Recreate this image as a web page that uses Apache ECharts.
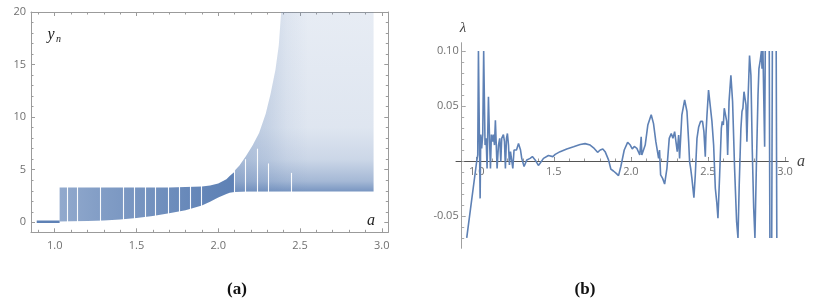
<!DOCTYPE html>
<html><head><meta charset="utf-8">
<script src="https://cdn.jsdelivr.net/npm/echarts@6/dist/echarts.min.js"></script>
<style>html,body{margin:0;padding:0;background:#fff}#c{width:821px;height:300px}</style>
</head><body><div id="c"></div>
<script>
// ---------- Panel (a): bifurcation diagram ----------
const aBase = [0.89, 1.03];
const yBase = [0.06, 0.06];

const aBand    = [1.03, 1.10, 1.20, 1.30, 1.40, 1.50, 1.60, 1.70, 1.80, 1.90, 1.95, 2.00, 2.05, 2.07, 2.10];
const bandLow  = [0.08, 0.10, 0.13, 0.18, 0.27, 0.40, 0.60, 0.85, 1.15, 1.60, 1.95, 2.35, 2.70, 2.80, 2.88];
const bandHigh = [3.30, 3.30, 3.30, 3.30, 3.30, 3.30, 3.30, 3.32, 3.35, 3.40, 3.50, 3.70, 4.10, 4.40, 4.80];

const aChaos    = [2.10, 2.13, 2.17, 2.21, 2.25, 2.29, 2.32, 2.35, 2.37, 2.385, 2.50, 2.70, 2.95];
const chaosLow  = [2.88, 2.90, 2.92, 2.93, 2.94, 2.94, 2.94, 2.94, 2.94, 2.94, 2.94, 2.94, 2.94];
const chaosHigh = [4.9, 5.4, 6.3, 7.3, 8.5, 10.3, 12.2, 14.5, 16.8, 20, 20, 20, 20];

// denser part of the chaotic cloud, along its left edge
const aWedge    = [2.10, 2.13, 2.17, 2.21, 2.25, 2.29, 2.32, 2.35, 2.37, 2.385, 2.45, 2.55];
const wedgeLow  = [2.88, 2.90, 2.92, 2.93, 2.94, 2.94, 2.94, 2.94, 2.94, 2.94, 2.94, 2.94];
const wedgeHigh = [4.9, 5.4, 6.3, 7.3, 8.5, 10.3, 12.2, 14.5, 16.8, 20, 20, 20];

// periodic windows (white gaps): position and top of each gap
const aGaps   = [1.078, 1.139, 1.276, 1.419, 1.486, 1.556, 1.617, 1.694, 1.761, 1.827, 1.898, 2.100, 2.163, 2.239, 2.306, 2.445];
const gapTops = [3.5, 3.5, 3.5, 3.5, 3.5, 3.5, 3.5, 3.5, 3.5, 3.6, 3.7, 5.2, 6.0, 7.0, 5.6, 4.7];

// ---------- Panel (b): Lyapunov exponent ----------
const lamA = [0.935,1.000,1.0065,1.011,1.015,1.017,1.022,1.026,1.032,1.039,1.045,1.050,1.054,1.061,1.067,1.076,1.080,1.084,1.089,1.095,1.102,1.108,1.115,1.121,1.128,1.132,1.141,1.149,1.156,1.162,1.173,1.180,1.186,1.193,1.199,1.206,1.212,1.219,1.227,1.234,1.242,1.249,1.258,1.271,1.284,1.292,1.307,1.325,1.346,1.361,1.379,1.400,1.411,1.433,1.465,1.494,1.509,1.541,1.584,1.628,1.671,1.703,1.736,1.758,1.784,1.801,1.818,1.833,1.855,1.870,1.887,1.905,1.920,1.935,1.957,1.979,1.996,2.009,2.022,2.039,2.058,2.067,2.071,2.080,2.093,2.110,2.132,2.147,2.162,2.180,2.186,2.193,2.206,2.219,2.234,2.249,2.262,2.273,2.284,2.292,2.301,2.310,2.316,2.331,2.349,2.364,2.375,2.381,2.388,2.396,2.409,2.418,2.429,2.440,2.452,2.465,2.474,2.483,2.487,2.494,2.504,2.515,2.526,2.537,2.548,2.558,2.565,2.576,2.587,2.593,2.600,2.606,2.615,2.622,2.628,2.637,2.649,2.660,2.673,2.686,2.695,2.703,2.714,2.721,2.727,2.734,2.740,2.747,2.753,2.760,2.770,2.779,2.788,2.797,2.805,2.814,2.825,2.831,2.840,2.847,2.851,2.857,2.862,2.868,2.872,2.880,2.898,2.902,2.908,2.914,2.918,2.930,2.943,2.947];
const lamV = [-0.070,0.000,0.0055,0.100,0.100,0.024,-0.034,0.024,0.0115,0.024,0.100,0.100,0.0145,0.0206,-0.0067,0.0585,0.057,0.0145,-0.0067,0.024,0.0176,0.024,0.0145,0.037,0.036,-0.0067,0.0145,0.0206,-0.0006,0.0206,0.024,0.0176,-0.0067,0.0206,0.025,0.0145,-0.0036,0.0085,0.010,-0.0067,0.010,0.0085,0.010,0.016,0.010,0.0024,-0.005,0.001,0.0024,0.004,0.001,-0.004,-0.002,0.0024,0.005,0.004,0.006,0.0085,0.011,0.013,0.015,0.0158,0.0145,0.012,0.0079,0.010,0.011,0.0085,0.001,-0.0073,-0.0091,-0.0112,-0.0133,-0.005,0.010,0.017,0.0145,0.011,0.0133,0.0115,0.0055,0.022,0.0055,0.004,0.0145,0.0327,0.042,0.034,0.0176,0.0024,0.010,-0.0127,-0.0158,-0.021,-0.0067,0.0206,0.025,0.0206,0.0267,0.025,0.0085,0.0236,0.0024,0.042,0.0555,0.045,0.0176,-0.0006,-0.0067,-0.0158,-0.0333,-0.0127,0.0206,0.031,0.036,0.036,0.0267,0.004,0.0236,0.042,0.0645,0.063,0.036,0.0145,-0.0248,-0.0385,-0.052,-0.0127,0.0297,0.036,0.0327,0.048,0.049,0.036,0.0055,0.054,0.078,0.054,-0.0067,-0.055,-0.070,-0.022,0.0297,0.045,0.048,0.063,0.0645,0.051,0.0176,0.055,0.096,0.078,0.0085,-0.043,-0.070,-0.0067,0.060,0.084,0.092,0.100,0.084,0.100,0.060,0.013,0.100,null,0.100,-0.070,null,-0.070,0.100,null,0.100,-0.070];

// ---------- tick labels ----------
const aTickLabels = [1.0, 1.5, 2.0, 2.5, 3.0];
const yTickLabelsA = [0, 5, 10, 15, 20];
const lamTickLabels = [-0.05, 0.05, 0.10];

function steps(from, to, step){ const r=[]; for(let k=0; from+k*step<=to+1e-9; k++) r.push(+(from+k*step).toFixed(4)); return r; }
const aMinor = steps(0.9, 3.0, 0.1);
const yMinorA = steps(0, 20, 1);
const lamMinor = steps(-0.07, 0.10, 0.01);

const BLUE = '#5E81B5';
const FRAME = '#9b9b9b';
const LBL = '#707070';
const FONT = '"Open Sans", "DejaVu Sans", sans-serif';

function ax(o){
  return Object.assign({
    type:'value', splitLine:{show:false}, scale:false,
    axisLine:{show:true, onZero:false, lineStyle:{color:FRAME, width:1}},
    axisLabel:{show:false},
    axisTick:{show:true, inside:true, length:4, lineStyle:{color:FRAME}}
  }, o);
}
const lab = (vals, fmt, margin) => ({show:true, customValues:vals, formatter:fmt, color:LBL, fontSize:11, fontFamily:FONT, margin:margin});

const xA = {min:0.855, max:3.04};
const yA = {min:-0.95, max:20};
const xB = {min:0.8654, max:3.0215};
const yB = {min:-0.0794, max:0.1076};
const gridB = {left:456, top:42.7, width:332.3, height:205.6};
// x axis of (b) sits on lambda = 0: shift it up from the grid bottom
const zeroShift = -(gridB.height * (0 - yB.min) / (yB.max - yB.min));

const xAxis = [
  ax({gridIndex:0, position:'bottom', ...xA, axisTick:{show:true,inside:true,length:4,customValues:aTickLabels,lineStyle:{color:FRAME}}, axisLabel:lab(aTickLabels, v=>(+v).toFixed(1), 8)}),
  ax({gridIndex:0, position:'top', ...xA, axisTick:{show:true,inside:true,length:4,customValues:aTickLabels,lineStyle:{color:FRAME}}}),
  ax({gridIndex:0, position:'bottom', ...xA, axisLine:{show:false,onZero:false}, axisTick:{show:true,inside:true,length:2.5,customValues:aMinor,lineStyle:{color:FRAME}}}),
  ax({gridIndex:0, position:'top', ...xA, axisLine:{show:false,onZero:false}, axisTick:{show:true,inside:true,length:2.5,customValues:aMinor,lineStyle:{color:FRAME}}}),
  ax({gridIndex:1, position:'bottom', offset:zeroShift, ...xB, axisLine:{show:true,onZero:false,lineStyle:{color:'#555',width:1}}, axisTick:{show:true,inside:true,length:4,customValues:aTickLabels,lineStyle:{color:'#888'}}, axisLabel:lab(aTickLabels, v=>(+v).toFixed(1), 5)}),
  ax({gridIndex:1, position:'bottom', offset:zeroShift, ...xB, axisLine:{show:false,onZero:false}, axisTick:{show:true,inside:true,length:2.5,customValues:aMinor,lineStyle:{color:'#999'}}})
];
const yAxis = [
  ax({gridIndex:0, position:'left', ...yA, axisTick:{show:true,inside:true,length:4,customValues:yTickLabelsA,lineStyle:{color:FRAME}}, axisLabel:lab(yTickLabelsA, v=>String(v), 5)}),
  ax({gridIndex:0, position:'right', ...yA, axisTick:{show:true,inside:true,length:4,customValues:yTickLabelsA,lineStyle:{color:FRAME}}}),
  ax({gridIndex:0, position:'left', ...yA, axisLine:{show:false,onZero:false}, axisTick:{show:true,inside:true,length:2.5,customValues:yMinorA,lineStyle:{color:FRAME}}}),
  ax({gridIndex:0, position:'right', ...yA, axisLine:{show:false,onZero:false}, axisTick:{show:true,inside:true,length:2.5,customValues:yMinorA,lineStyle:{color:FRAME}}}),
  ax({gridIndex:1, position:'left', offset:-5.7, ...yB, axisLine:{show:true,onZero:false,lineStyle:{color:'#a0a0a0',width:1}}, axisTick:{show:true,inside:true,length:4,customValues:lamTickLabels,lineStyle:{color:'#a0a0a0'}}, axisLabel:lab(lamTickLabels, v=>(+v).toFixed(2), 3)}),
  ax({gridIndex:1, position:'left', offset:-5.7, ...yB, axisLine:{show:false,onZero:false}, axisTick:{show:true,inside:true,length:2.5,customValues:lamMinor,lineStyle:{color:'#aaa'}}})
];

const rgba = a => 'rgba(94,129,181,' + a + ')';
function bandSeries(aArr, lo, hi, fill, z){
  return {type:'custom', xAxisIndex:0, yAxisIndex:0, clip:true, silent:true, z:z||2,
    data: aArr.map((a,i)=>[a, lo[i], hi[i]]),
    encode:{x:0, y:[1,2]},
    renderItem:(params, api)=>{
      if (params.dataIndex !== 0) return null;
      const pts = [];
      for (let i=0;i<aArr.length;i++) pts.push(api.coord([aArr[i], hi[i]]));
      for (let i=aArr.length-1;i>=0;i--) pts.push(api.coord([aArr[i], lo[i]]));
      return {type:'polygon', shape:{points:pts}, style:{fill:fill, stroke:null}};
    }};
}
const leftFill = new echarts.graphic.LinearGradient(0,0,1,0,[
  {offset:0,color:rgba(0.68)},{offset:0.25,color:rgba(0.78)},{offset:0.55,color:rgba(0.88)},{offset:0.8,color:rgba(0.96)},{offset:1,color:rgba(1)}]);
const rightFill = new echarts.graphic.LinearGradient(0,0,0,1,[
  {offset:0,color:rgba(0.15)},{offset:0.64,color:rgba(0.2)},{offset:0.82,color:rgba(0.32)},{offset:0.94,color:rgba(0.56)},{offset:1,color:rgba(0.85)}]);
const wedgeFill = new echarts.graphic.LinearGradient(0,0,1,0,[
  {offset:0,color:rgba(0.35)},{offset:0.44,color:rgba(0.2)},{offset:0.71,color:rgba(0.07)},{offset:1,color:rgba(0)}]);

const series = [
  {type:'line', xAxisIndex:0, yAxisIndex:0, data:aBase.map((a,i)=>[a,yBase[i]]), symbol:'none', lineStyle:{color:BLUE, width:2.5}},
  bandSeries(aBand, bandLow, bandHigh, leftFill, 2),
  bandSeries(aChaos, chaosLow, chaosHigh, rightFill, 2),
  bandSeries(aWedge, wedgeLow, wedgeHigh, wedgeFill, 3),
  {type:'line', xAxisIndex:0, yAxisIndex:0, z:5, data:aGaps.map(a=>[a,null]), symbol:'none', lineStyle:{width:0},
    markLine:{silent:true, symbol:['none','none'], label:{show:false}, animation:false,
      lineStyle:{color:'#fff', width:1.1, type:'solid', opacity:0.95},
      data:aGaps.map((a,i)=>[{coord:[a,-0.2]},{coord:[a,gapTops[i]]}])}},
  {type:'line', xAxisIndex:4, yAxisIndex:4, data:lamA.map((a,i)=>[a,lamV[i]]), symbol:'none', connectNulls:false, clip:true,
    lineStyle:{color:BLUE, width:1.6}}
];

const txt = (x,y,text,font,color,align) => ({type:'text', x:x, y:y, silent:true, style:{text:text, font:font, fill:color||'#222', align:align||'center', verticalAlign:'middle', textAlign:align||'center', textVerticalAlign:'middle'}});

const chart = echarts.init(document.getElementById('c'), null, {renderer:'canvas'});
chart.setOption({
  animation:false,
  backgroundColor:'#fff',
  grid:[
    {left:31, top:12, width:357.3, height:220.3, containLabel:false},
    Object.assign({containLabel:false}, gridB)
  ],
  xAxis:xAxis, yAxis:yAxis, series:series,
  graphic:[
    txt(51, 35, 'y', 'italic 16px "Liberation Serif", serif', '#222'),
    txt(58.5, 39, 'n', 'italic 10px "Liberation Serif", serif', '#222'),
    txt(371, 221, 'a', 'italic 16px "Liberation Serif", serif', '#222'),
    txt(463, 28, 'λ', 'italic 15px "Liberation Serif", serif', '#444'),
    txt(801, 162, 'a', 'italic 16px "Liberation Serif", serif', '#444'),
    txt(237, 290, '(a)', 'bold 17px "Liberation Serif", serif', '#111'),
    txt(585, 290, '(b)', 'bold 17px "Liberation Serif", serif', '#111')
  ]
});
</script></body></html>
